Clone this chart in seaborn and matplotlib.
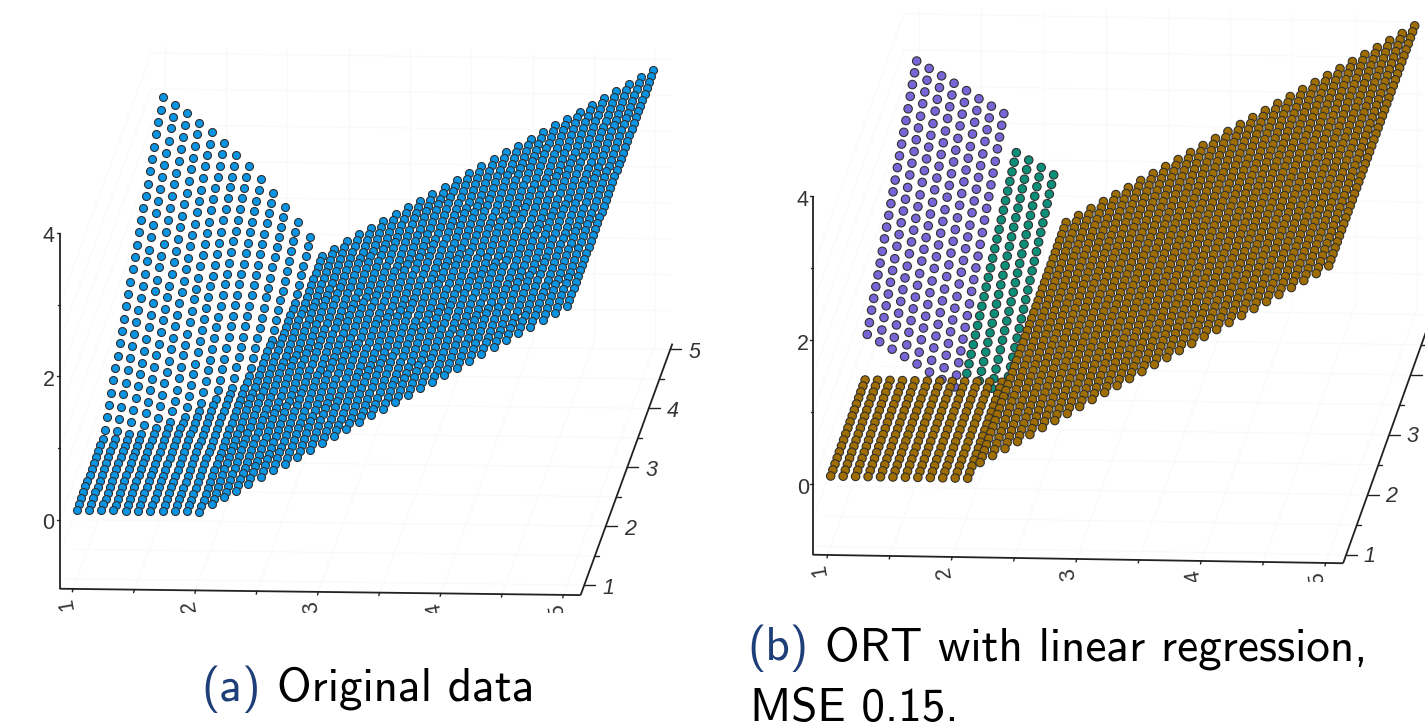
import pandas as pd
import matplotlib
matplotlib.use("Agg")
import matplotlib.pyplot as plt
import seaborn as sns

# Grid of the input space
x_grid = [1.0, 1.1, 1.2, 1.3, 1.4, 1.5, 1.6, 1.7, 1.8, 1.9, 2.0, 2.1, 2.2, 2.3, 2.4, 2.5, 2.6, 2.7, 2.8, 2.9, 3.0,
          3.1, 3.2, 3.3, 3.4, 3.5, 3.6, 3.7, 3.8, 3.9, 4.0, 4.1, 4.2, 4.3, 4.4, 4.5, 4.6, 4.7, 4.8, 4.9, 5.0]
y_top_down = [5.0, 4.9, 4.8, 4.7, 4.6, 4.5, 4.4, 4.3, 4.2, 4.1, 4.0, 3.9, 3.8, 3.7, 3.6, 3.5, 3.4, 3.3, 3.2, 3.1, 3.0,
              2.9, 2.8, 2.7, 2.6, 2.5, 2.4, 2.3, 2.2, 2.1, 2.0, 1.9, 1.8, 1.7, 1.6, 1.5, 1.4, 1.3, 1.2, 1.1, 1.0]

# (a) floor height of each x column
z_floor_a = [0, 0, 0, 0, 0, 0, 0, 0, 0, 0, 0, 0.10, 0.20, 0.29, 0.39, 0.49, 0.59, 0.68, 0.78, 0.88, 0.98,
             1.07, 1.17, 1.27, 1.37, 1.46, 1.56, 1.66, 1.76, 1.85, 1.95, 2.05, 2.15, 2.24, 2.34, 2.44, 2.54,
             2.63, 2.73, 2.83, 2.93]

# (a) raised part, one list per x column, from y=5 downwards
z_fan_a = [
    [2.47, 2.38, 2.29, 2.20, 2.11, 2.02, 1.93, 1.84, 1.75, 1.66, 1.58, 1.49, 1.40, 1.31, 1.22, 1.13, 1.04, .95, .86, .77, .68, .59, .50, .41, .32, .23, .14, .05],
    [2.37, 2.28, 2.20, 2.11, 2.02, 1.94, 1.85, 1.77, 1.68, 1.59, 1.51, 1.42, 1.33, 1.25, 1.16, 1.07, .99, .90, .81, .73, .64, .56, .47, .38, .30, .21, .12, .04],
    [2.25, 2.17, 2.08, 2.00, 1.92, 1.83, 1.75, 1.67, 1.58, 1.50, 1.42, 1.33, 1.25, 1.17, 1.08, 1.00, .92, .83, .75, .67, .58, .50, .42, .33, .25, .17, .08],
    [2.12, 2.04, 1.96, 1.88, 1.80, 1.72, 1.64, 1.56, 1.48, 1.40, 1.32, 1.24, 1.16, 1.08, 1.00, .92, .84, .76, .68, .60, .52, .44, .36, .28, .20, .12, .04],
    [1.99, 1.91, 1.84, 1.76, 1.68, 1.60, 1.53, 1.45, 1.37, 1.30, 1.22, 1.14, 1.07, .99, .91, .84, .76, .68, .60, .53, .45, .37, .30, .22, .14, .06],
    [1.84, 1.77, 1.69, 1.62, 1.54, 1.47, 1.40, 1.32, 1.25, 1.17, 1.10, 1.03, .95, .88, .81, .73, .66, .58, .51, .44, .36, .29, .21, .14, .07],
    [1.68, 1.61, 1.54, 1.47, 1.40, 1.33, 1.26, 1.18, 1.11, 1.04, .97, .90, .83, .76, .69, .62, .55, .48, .41, .33, .26, .19, .12, .05],
    [1.52, 1.45, 1.38, 1.32, 1.25, 1.18, 1.11, 1.05, .98, .91, .84, .78, .71, .64, .57, .51, .44, .37, .30, .24, .17, .10, .03],
    [1.34, 1.28, 1.21, 1.15, 1.08, 1.02, .95, .89, .82, .76, .70, .63, .57, .50, .44, .37, .31, .24, .18, .11, .05],
    [1.16, 1.10, 1.04, .98, .91, .85, .79, .73, .67, .61, .55, .48, .42, .36, .30, .24, .18, .12, .05],
    [.96, .90, .84, .79, .73, .67, .61, .55, .49, .44, .38, .32, .26, .20, .14, .09, .03],
    [.76, .70, .65, .59, .54, .48, .43, .37, .32, .26, .21, .15],
    [.55, .50, .45, .39, .34, .29, .24],
]

# (b) piecewise model: brown floor, then the two raised leaves
z_floor_b = [0, 0, 0, 0, 0, 0, 0, 0, 0, 0, 0, 0, 0.22, 0.32, 0.42, 0.52, 0.62, 0.72, 0.82, 0.92, 1.02,
             1.12, 1.22, 1.32, 1.42, 1.52, 1.62, 1.72, 1.82, 1.92, 2.02, 2.12, 2.22, 2.32, 2.42, 2.52, 2.62,
             2.72, 2.82, 2.92, 3.03]
z_purple_b = [
    [2.43, 2.35, 2.27, 2.19, 2.10, 2.02, 1.94, 1.86, 1.78, 1.70, 1.61, 1.53, 1.45, 1.37, 1.29, 1.21, 1.12, 1.04, .96, .88, .80, .72, .63, .55],
    [2.33, 2.25, 2.17, 2.09, 2.00, 1.92, 1.84, 1.76, 1.68, 1.60, 1.51, 1.43, 1.35, 1.27, 1.19, 1.11, 1.02, .94, .86, .78, .70, .62, .53, .45],
    [2.23, 2.15, 2.07, 1.99, 1.90, 1.82, 1.74, 1.66, 1.58, 1.50, 1.41, 1.33, 1.25, 1.17, 1.09, 1.01, .92, .84, .76, .68, .60, .52, .43, .35],
    [2.13, 2.05, 1.97, 1.89, 1.80, 1.72, 1.64, 1.56, 1.48, 1.40, 1.31, 1.23, 1.15, 1.07, .99, .91, .82, .74, .66, .58, .50, .42, .33, .25],
    [2.03, 1.95, 1.87, 1.79, 1.70, 1.62, 1.54, 1.46, 1.38, 1.30, 1.21, 1.13, 1.05, .97, .89, .81, .72, .64, .56, .48, .40, .32, .23, .15],
    [1.92, 1.84, 1.76, 1.68, 1.59, 1.51, 1.43, 1.35, 1.27, 1.19, 1.10, 1.02, .94, .86, .78, .70, .61, .53, .45, .37, .29, .21, .12, .04],
    [1.82, 1.74, 1.66, 1.58, 1.49, 1.41, 1.33, 1.25, 1.17, 1.09, 1.00, .92, .84, .76, .68, .60, .51, .43, .35, .27, .19, .11, .02, -.06],
    [1.72, 1.64, 1.56, 1.48, 1.39, 1.31, 1.23, 1.15, 1.07, .99, .90, .82, .74, .66, .58, .50, .41, .33, .25, .17, .09, .01, -.08, -.16],
]
z_green_b = [
    [1.18, 1.13, 1.08, 1.03, .98, .93, .88, .83, .78, .73, .68, .63, .58, .53, .48, .43, .38, .33, .28, .23, .18, .13, .08, .03],
    [1.08, 1.03, .98, .93, .88, .83, .78, .73, .68, .63, .58, .53, .48, .43, .38, .33, .28, .23, .18, .13, .08, .03, -.02, -.07],
    [.98, .93, .88, .83, .78, .73, .68, .63, .58, .53, .48, .43, .38, .33, .28, .23, .18, .13, .08, .03, -.02, -.07, -.12, -.17],
    [.88, .83, .78, .73, .68, .63, .58, .53, .48, .43, .38, .33, .28, .23, .18, .13, .08, .03, -.02, -.07, -.12, -.17, -.22, -.27],
]

x_major = [1, 2, 3, 4, 5]
y_major = [1, 2, 3, 4, 5]
z_major = [0, 2, 4]
x_minor = [1.5, 2.5, 3.5, 4.5]
y_minor = [1.5, 2.5, 3.5, 4.5]
z_minor = [1, 3]
grid_xy = [1, 1.5, 2, 2.5, 3, 3.5, 4, 4.5, 5]
grid_z = [-0.5, 0, 0.5, 1, 1.5, 2, 2.5, 3]

W, H = 1425, 725
BLUE = "#0a94e4"
PURPLE = "#7766d8"
GREEN = "#0c8f78"
BROWN = "#a06e00"
EDGE = "#303030"
GRID = "#f9f9f9"
AXIS = "#222222"
CAP_BLUE = "#1f3f78"
LABEL_SIZE = 15.5
WALL_TOP = 3.1


class View:
    # oblique view of the 3D box, everything in picture pixels
    def __init__(self, origin, ex, ey, ez, box):
        self.origin, self.ex, self.ey, self.ez, self.box = origin, ex, ey, ez, box

    def px(self, x, y, z):
        u = self.origin[0] + self.ex[0] * (x - 1) + self.ey[0] * (y - 1) + self.ez[0] * z
        v = self.origin[1] + self.ex[1] * (x - 1) + self.ey[1] * (y - 1) + self.ez[1] * z
        return u, v


def panel_axes(left, right, bottom):
    ax = fig.add_axes([left / W, 1 - bottom / H, (right - left) / W, bottom / H])
    ax.set_xlim(left, right)
    ax.set_ylim(bottom, 0)
    ax.axis("off")
    return ax


def segment(ax, view, a, b, color=AXIS, lw=1.3, z=2):
    ua, va = view.px(*a)
    ub, vb = view.px(*b)
    ax.plot([ua, ub], [va, vb], color=color, lw=lw, zorder=z, solid_capstyle="butt")


def draw_box(ax, view, x_labels_off, y_labels_off, z_labels_off):
    x0, x1, y0, y1, z0, z1 = view.box
    # faint grid on floor and walls
    for gx in grid_xy:
        segment(ax, view, (gx, y0, z0), (gx, y1, z0), GRID, 0.8, 0)
        segment(ax, view, (gx, y1, z0), (gx, y1, WALL_TOP), GRID, 0.8, 0)
    for gy in grid_xy:
        segment(ax, view, (x0, gy, z0), (x1, gy, z0), GRID, 0.8, 0)
    for gz in grid_z:
        segment(ax, view, (x0, y1, gz), (x1, y1, gz), GRID, 0.8, 0)
        segment(ax, view, (x0, y0, gz), (x0, y1, gz), GRID, 0.8, 0)

    segment(ax, view, (x0, y0, z0), (x1, y0, z0))
    segment(ax, view, (x1, y0, z0), (x1, y1, z0))
    segment(ax, view, (x0, y0, z0), (x0, y0, z1))

    for t in x_major + x_minor:
        u, v = view.px(t, y0, z0)
        ax.plot([u, u - 0.7], [v, v + 3], color=AXIS, lw=1, zorder=2)
    for t in x_major:
        u, v = view.px(t, y0, z0)
        ax.text(u + x_labels_off[0], v + x_labels_off[1], str(t), rotation=100, ha="center", va="center",
                fontsize=LABEL_SIZE, color="#333333", clip_on=True)
    for t in y_major:
        u, v = view.px(x1, t, z0)
        ax.plot([u, u + 11], [v, v], color=AXIS, lw=1, zorder=2)
        # labels past the right edge of the picture are lost in the reference too
        if u + y_labels_off[0] + 6 < W:
            ax.text(u + y_labels_off[0], v + y_labels_off[1], str(t), ha="center", va="center", style="italic",
                    fontsize=LABEL_SIZE, color="#333333", clip_on=True)
    for t in y_minor:
        u, v = view.px(x1, t, z0)
        ax.plot([u, u + 4], [v, v], color=AXIS, lw=1, zorder=2)
    for t in z_major:
        u, v = view.px(x0, y0, t)
        ax.plot([u, u - 3], [v, v], color=AXIS, lw=1, zorder=2)
        ax.text(u + z_labels_off[0], v + z_labels_off[1], str(t), ha="center", va="center",
                fontsize=LABEL_SIZE, color="#333333", clip_on=True)
    for t in z_minor:
        u, v = view.px(x0, y0, t)
        ax.plot([u, u - 2], [v, v], color=AXIS, lw=1, zorder=2)


def surface_a():
    rows = []
    for i, x in enumerate(x_grid):
        fan = z_fan_a[i] if i < len(z_fan_a) else []
        for j, y in enumerate(y_top_down):
            z = fan[j] if j < len(fan) else z_floor_a[i]
            rows.append((x, y, z))
    return pd.DataFrame(rows, columns=["x", "y", "z"])


def surface_b():
    rows = []
    for i, x in enumerate(x_grid):
        for j, y in enumerate(y_top_down):
            if i < 8 and j < 24:
                rows.append((x, y, z_purple_b[i][j], "purple"))
            elif 8 <= i < 12 and j < 24:
                rows.append((x, y, z_green_b[i - 8][j], "green"))
            else:
                rows.append((x, y, z_floor_b[i], "brown"))
    return pd.DataFrame(rows, columns=["x", "y", "z", "leaf"])


def add_screen(df, view):
    df["u"], df["v"] = view.px(df["x"], df["y"], df["z"])
    # back rows first, front rows cover them
    return df.sort_values(["y", "x"], ascending=[False, True], kind="stable")


sns.set_theme(style="white")
plt.rcParams["font.family"] = ["Liberation Sans", "DejaVu Sans"]

fig = plt.figure(figsize=(W / 100, H / 100), dpi=100)
fig.patch.set_facecolor("white")

# (a) original data
ax_a = panel_axes(0, 700, 613)
view_a = View((76.7, 510), (122.6, 1.5), (21.5, -58.9), (0, -71.75), (0.89, 5.14, 0.83, 5.1, -0.96, 4))
draw_box(ax_a, view_a, (-6, 15.5), (24, 3), (-11, 4))
df_a = add_screen(surface_a(), view_a)
sns.scatterplot(data=df_a, x="u", y="v", color=BLUE, s=33, edgecolor=EDGE, linewidth=0.8, ax=ax_a, legend=False, zorder=3)
ax_a.set_xlim(0, 700)
ax_a.set_ylim(613, 0)
ax_a.axis("off")

# (b) ORT with linear regression
ax_b = panel_axes(700, W, 582)
view_b = View((830.7, 476), (124.5, 2), (21.5, -60), (0, -72), (0.88, 5.14, 0.86, 5.1, -0.98, 4))
draw_box(ax_b, view_b, (-7.5, 15.5), (23, 1.5), (-10, 4))
df_b = add_screen(surface_b(), view_b)
sns.scatterplot(data=df_b, x="u", y="v", hue="leaf", palette={"purple": PURPLE, "green": GREEN, "brown": BROWN},
                s=37, edgecolor=EDGE, linewidth=0.8, ax=ax_b, legend=False, zorder=3)
ax_b.set_xlim(700, W)
ax_b.set_ylim(582, 0)
ax_b.axis("off")


def caption(x, base, s, color="black"):
    fig.text(x / W, 1 - base / H, s, family="cmss10", fontsize=34, color=color, ha="left", va="baseline")


caption(201, 701, "(a)", CAP_BLUE)
caption(277, 701, "Original data")
caption(747, 660, "(b)", CAP_BLUE)
caption(825, 660, "ORT with linear regression,")
caption(750, 721, "MSE 0.15.")

fig.savefig("out.png", dpi=100)
